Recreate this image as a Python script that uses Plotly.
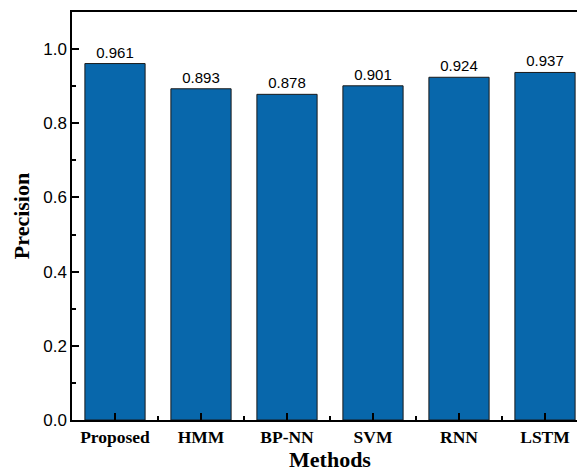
import plotly.graph_objects as go

methods = ["Proposed", "HMM", "BP-NN", "SVM", "RNN", "LSTM"]
precision = [0.961, 0.893, 0.878, 0.901, 0.924, 0.937]
labels = ["0.961", "0.893", "0.878", "0.901", "0.924", "0.937"]
y_ticks = [0.0, 0.2, 0.4, 0.6, 0.8, 1.0]

xpos = list(range(len(methods)))

fig = go.Figure(go.Bar(
    x=xpos, y=precision, width=0.7,
    marker=dict(color="#0867AB", line=dict(color="#1a1a1a", width=1)),
    text=labels, textposition="outside", cliponaxis=False,
    textfont=dict(family="Liberation Sans, Arial", size=15, color="black"),
))

fig.update_layout(
    width=585, height=464,
    margin=dict(l=64, r=5, t=2, b=52),
    plot_bgcolor="white", paper_bgcolor="white",
    showlegend=False,
    xaxis=dict(
        range=[-0.5, 5.5],
        tickvals=xpos, ticktext=methods,
        showline=True, linecolor="black", linewidth=1.5, mirror=True,
        ticks="inside", ticklen=7, tickwidth=1.5, tickcolor="black",
        minor=dict(tick0=0.5, dtick=1, ticks="inside", ticklen=4, tickwidth=1.5, tickcolor="black"),
        tickfont=dict(family="Liberation Serif, Times New Roman", size=17.5, color="black", weight="bold"),
        title=dict(text="<b>Methods</b>", font=dict(family="Liberation Serif, Times New Roman", size=22, color="black"), standoff=3),
        showgrid=False, zeroline=False,
    ),
    yaxis=dict(
        range=[0, 1.1],
        tickvals=y_ticks, ticktext=[f"{v:.1f}" for v in y_ticks],
        showline=True, linecolor="black", linewidth=1.5, mirror=False,
        ticks="inside", ticklen=7, tickwidth=1.5, tickcolor="black",
        minor=dict(dtick=0.1, ticks="inside", ticklen=4, tickwidth=1.5, tickcolor="black"),
        tickfont=dict(family="Liberation Sans, Arial", size=17, color="black"),
        title=dict(text="<b>Precision</b>", font=dict(family="Liberation Serif, Times New Roman", size=22, color="black"), standoff=8),
        showgrid=False, zeroline=False,
    ),
)

fig.write_html("out.html")
